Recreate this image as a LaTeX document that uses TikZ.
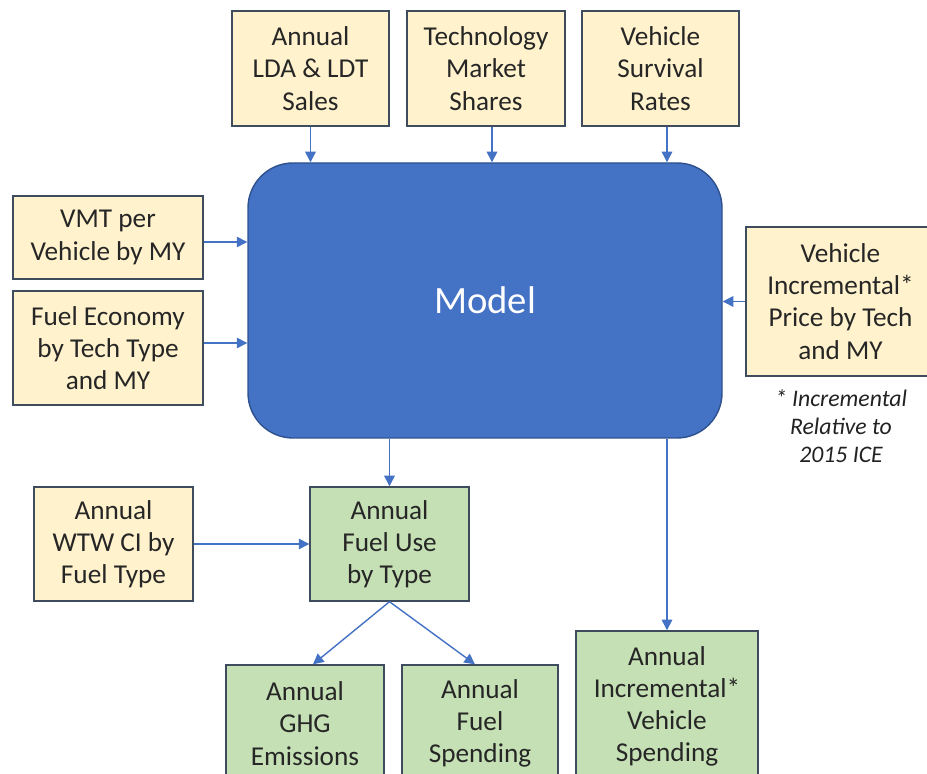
\documentclass[tikz,border=0pt]{standalone}
\usepackage{fontspec}
\setmainfont{Carlito}
\usetikzlibrary{arrows.meta}
\definecolor{inputfill}{HTML}{FFF2CC}
\definecolor{outputfill}{HTML}{C5E0B4}
\definecolor{modelfill}{HTML}{4472C4}
\definecolor{modelline}{HTML}{2F528F}
\definecolor{boxline}{HTML}{3E4C5E}
\definecolor{flowline}{HTML}{4472C4}
\definecolor{notetext}{HTML}{222222}

\begin{document}
\begin{tikzpicture}[
	input/.style={draw=boxline, line width=0.8pt, fill=inputfill, align=center, inner sep=0pt,
		font=\fontsize{15.5}{18.3}\selectfont, text=black!85},
	output/.style={input, fill=outputfill},
	flow/.style={draw=flowline, line width=0.8pt, -{Triangle[length=6pt,width=6pt]}}
	]
	\useasboundingbox (0,0) rectangle (18.54,15.48);
	% model block
	\node[draw=modelline, line width=0.8pt, fill=modelfill, rounded corners=0.9cm,
		minimum width=9.48cm, minimum height=5.50cm, text=white,
		font=\fontsize{22}{26}\selectfont] (model) at (9.70,9.47) {Model};
	% inputs on top
	\node[input, minimum width=3.14cm, minimum height=2.30cm] (sales) at (6.21,14.11) {Annual\\LDA \& LDT\\Sales};
	\node[input, minimum width=3.16cm, minimum height=2.30cm] (tech) at (9.72,14.11) {Technology\\Market\\Shares};
	\node[input, minimum width=3.14cm, minimum height=2.30cm] (survival) at (13.21,14.11) {Vehicle\\Survival\\Rates};
	% inputs on the sides
	\node[input, minimum width=3.80cm, minimum height=1.66cm] (vmt) at (2.16,10.73) {VMT per\\Vehicle by MY};
	\node[input, minimum width=3.80cm, minimum height=2.28cm] (economy) at (2.16,8.52) {Fuel Economy\\by Tech Type\\and MY};
	\node[input, minimum width=3.78cm, minimum height=2.98cm] (price) at (16.81,9.45) {Vehicle\\Incremental*\\Price by Tech\\and MY};
	\node[align=center, text=notetext, font=\fontsize{13.5}{16}\selectfont\itshape] (note) at (16.82,6.96) {* Incremental\\Relative to\\2015 ICE};
	\node[input, minimum width=3.18cm, minimum height=2.28cm] (wtw) at (2.27,4.60) {Annual\\WTW CI by\\Fuel Type};
	% outputs
	\node[output, minimum width=3.18cm, minimum height=2.28cm] (fueluse) at (7.79,4.60) {Annual\\Fuel Use\\by Type};
	\node[output, minimum width=3.16cm, minimum height=2.34cm] (ghg) at (6.10,1.01) {Annual\\GHG\\Emissions};
	\node[output, minimum width=3.12cm, minimum height=2.34cm] (fuelspend) at (9.60,1.01) {Annual\\Fuel\\Spending};
	\node[output, minimum width=3.64cm, minimum height=3.02cm] (vehspend) at (13.34,1.35) {Annual\\Incremental*\\Vehicle\\Spending};
	% connectors
	\draw[flow] (sales) -- (sales |- model.north);
	\draw[flow] ([xshift=0.12cm]tech.south) -- ([xshift=0.12cm]tech.south |- model.north);
	\draw[flow] ([xshift=0.13cm]survival.south) -- ([xshift=0.13cm]survival.south |- model.north);
	\draw[flow] ([yshift=-0.09cm]vmt.east) -- ([yshift=-0.09cm]vmt.east -| model.west);
	\draw[flow] ([yshift=0.10cm]economy.east) -- ([yshift=0.10cm]economy.east -| model.west);
	\draw[flow] (price) -- (price -| model.east);
	\draw[flow] (model.south -| fueluse) -- (fueluse);
	\draw[flow] (model.south -| vehspend) -- (vehspend);
	\draw[flow] (wtw) -- (fueluse);
	\draw[flow] (fueluse.south) -- ([xshift=0.16cm]ghg.north);
	\draw[flow] (fueluse.south) -- ([xshift=-0.10cm]fuelspend.north);
\end{tikzpicture}
\end{document}
